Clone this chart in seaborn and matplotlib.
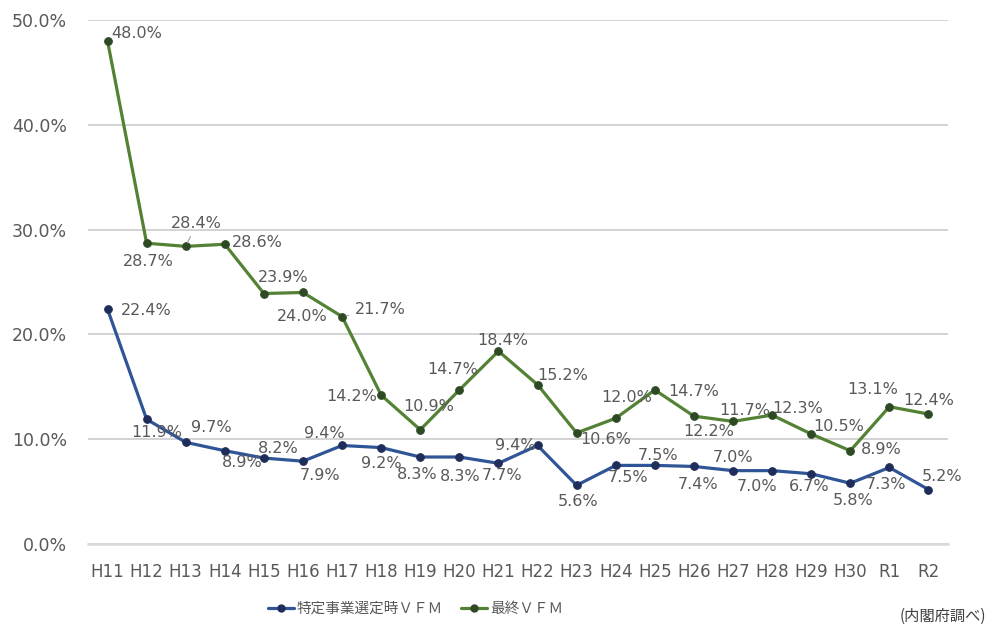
import matplotlib
matplotlib.use("Agg")
import matplotlib.pyplot as plt
import seaborn as sns
import pandas as pd
from matplotlib.lines import Line2D

# ---- data ----
years = ["H11", "H12", "H13", "H14", "H15", "H16", "H17", "H18", "H19", "H20", "H21",
         "H22", "H23", "H24", "H25", "H26", "H27", "H28", "H29", "H30", "R1", "R2"]
vfm_selection = [22.4, 11.9, 9.7, 8.9, 8.2, 7.9, 9.4, 9.2, 8.3, 8.3, 7.7,
                 9.4, 5.6, 7.5, 7.5, 7.4, 7.0, 7.0, 6.7, 5.8, 7.3, 5.2]
vfm_final = [48.0, 28.7, 28.4, 28.6, 23.9, 24.0, 21.7, 14.2, 10.9, 14.7, 18.4,
             15.2, 10.6, 12.0, 14.7, 12.2, 11.7, 12.3, 10.5, 8.9, 13.1, 12.4]
series_names = ["特定事業選定時ＶＦＭ", "最終ＶＦＭ"]
yticks = [0, 10, 20, 30, 40, 50]
source_note = "(内閣府調べ)"

# ---- label offsets (pixels) ----
off_sel = [(39, -1), (10, -13), (26, 15), (17, -12), (14, 10), (17, -14), (-18, 12),
           (0, -16), (-3, -17), (1, -19), (4, -12), (-22, 0), (1, -16), (12, -12),
           (3, 10), (4, -18), (0, 13), (-15, -16), (-2, -13), (3, -17), (-3, -17), (14, 13)]
off_fin = [(29, 7), (2, -18), (11, 23), (32, 2), (19, 16), (-1, -24), (38, 7),
           (-29, -1), (8, 23), (-7, 20), (4, 11), (25, 9), (29, -7), (11, 21),
           (39, -2), (15, -15), (12, 11), (26, 7), (28, 7), (31, 1), (-17, 17), (0, 14)]
leader_fin = {2, 6}

sns.set_style("white")
plt.rcParams["font.family"] = ["DejaVu Sans", "Noto Sans CJK JP"]

df = pd.DataFrame({
    "year": years * 2,
    "value": vfm_selection + vfm_final,
    "series": [series_names[0]] * len(years) + [series_names[1]] * len(years),
})
df["x"] = list(range(len(years))) * 2

line_colors = ["#2F5597", "#548235"]
marker_colors = ["#1F2D5A", "#2E4A24"]

fig = plt.figure(figsize=(9.89, 6.28), dpi=100)
ax = fig.add_axes([88 / 989, 1 - 544 / 628, 860 / 989, 524 / 628])

for i, name in enumerate(series_names):
    sub = df[df["series"] == name]
    sns.lineplot(data=sub, x="x", y="value", ax=ax, color=line_colors[i], lw=2.3,
                 marker="o", markersize=5.5, markerfacecolor=marker_colors[i],
                 markeredgecolor=marker_colors[i], legend=False, zorder=3)

label_color = "#595959"
for i, (vals, offs) in enumerate([(vfm_selection, off_sel), (vfm_final, off_fin)]):
    for j, v in enumerate(vals):
        dx, dy = offs[j]
        kw = {}
        if i == 1 and j in leader_fin:
            kw["arrowprops"] = dict(arrowstyle="-", color="#a6a6a6", lw=0.9,
                                    shrinkA=2, shrinkB=3)
        ax.annotate(f"{v:.1f}%", (j, v), xytext=(dx, dy), textcoords="offset pixels",
                    ha="center", va="center", fontsize=11.5, color=label_color,
                    zorder=4, **kw)

ax.set_xlim(-0.5, len(years) - 0.5)
ax.set_ylim(0, 50)
ax.set_yticks(yticks)
ax.set_yticklabels([f"{t:.1f}%" for t in yticks])
ax.set_xticks(range(len(years)))
ax.set_xticklabels(years)
ax.set_xlabel("")
ax.set_ylabel("")
ax.yaxis.grid(True, color="#d0d0d0", lw=1.3)
ax.set_axisbelow(True)
for s in ["top", "right", "left"]:
    ax.spines[s].set_visible(False)
ax.spines["bottom"].set_color("#d9d9d9")
ax.spines["bottom"].set_linewidth(1.8)
ax.tick_params(axis="y", length=0, pad=15, labelsize=12.5, labelcolor=label_color)
ax.tick_params(axis="x", length=6, direction="inout", color="#bfbfbf", width=1,
               pad=11, labelsize=12, labelcolor=label_color)

handles = [Line2D([0], [0], color=line_colors[i], lw=2.3, marker="o", markersize=5,
                  markerfacecolor=marker_colors[i], markeredgecolor=marker_colors[i])
           for i in range(2)]
leg = fig.legend(handles, series_names, loc="center", bbox_to_anchor=(0.42, 0.03),
                 ncol=2, frameon=False, handlelength=1.8, handletextpad=0.2,
                 columnspacing=1.2, prop={"family": ["Noto Sans CJK JP"], "size": 10.5})
for t in leg.get_texts():
    t.set_color(label_color)

fig.text(0.997, 0.018, source_note, ha="right", va="center", fontsize=11,
         color="#404040", family=["Noto Sans CJK JP"])

fig.savefig("out.png", dpi=100)
